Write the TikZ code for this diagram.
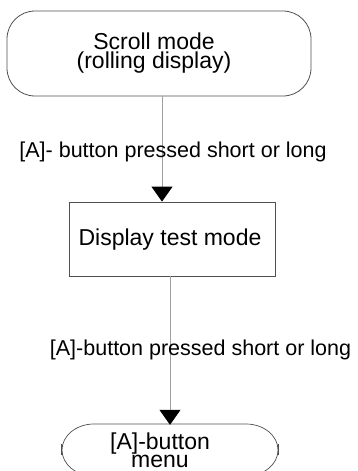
\documentclass[tikz,border=0pt]{standalone}
\usepackage{fontspec}
\setmainfont{Liberation Sans}
\usetikzlibrary{arrows.meta}
\definecolor{boxline}{HTML}{505050}
\definecolor{connline}{HTML}{A0A0A0}
\tikzset{
  statebox/.style={draw=boxline, line width=0.8pt, inner sep=0pt, align=center},
  conn/.style={draw=connline, line width=1pt,
    -{Triangle[width=21pt,length=15pt,color=black]}},
  connlabel/.style={inner sep=0pt, font=\fontsize{21.5}{24}\selectfont},
  nodetext/.style={inner sep=0pt, align=center, font=\fontsize{23}{19}\selectfont},
  outline/.style={draw=boxline, line width=0.7pt}
}
\begin{document}
\begin{tikzpicture}[x=1pt,y=-1pt]
\useasboundingbox (0,0) rectangle (358,471);
\clip (0,0) rectangle (358,471);
% top rounded box
\node[statebox, rounded corners=28pt, minimum width=304pt, minimum height=85pt] (scroll) at (159,53.5) {};
\node[nodetext] (scrolltext) at (154,53) {Scroll mode\\(rolling display)};
% middle box
\node[statebox, minimum width=206pt, minimum height=74pt] (disp) at (172,239) {};
\node[nodetext] (disptext) at (170,240) {Display test mode};
% bottom shape
\node[inner sep=0pt, minimum width=216pt, minimum height=52pt] (menushape) at (170,450) {};
\draw[outline]
  (94,424) -- (246,424)
  .. controls (263.7,424) and (278,435.6) .. (278,450)
  .. controls (278,464.4) and (263.7,476) .. (246,476)
  -- (94,476)
  .. controls (76.3,476) and (62,464.4) .. (62,450)
  .. controls (62,435.6) and (76.3,424) .. cycle;
\draw[outline] ([yshift=-5pt]menushape.west) -- ([yshift=6pt]menushape.west);
\draw[outline] ([yshift=-5pt]menushape.east) -- ([yshift=6pt]menushape.east);
\node[nodetext, font=\fontsize{23}{18}\selectfont] (menutext) at (160,450) {[A]-button\\menu};
% connectors
\draw[conn] ([xshift=3pt]scroll.south) -- ([xshift=-10pt]disp.north);
\draw[conn] ([xshift=-2pt]disp.south) -- ([yshift=-1pt]menushape.north);
% labels
\node[connlabel] (lab1) at (173,152) {[A]- button pressed short or long};
\node[connlabel] (lab2) at (200.5,350) {[A]-button pressed short or long};
\end{tikzpicture}
\end{document}
